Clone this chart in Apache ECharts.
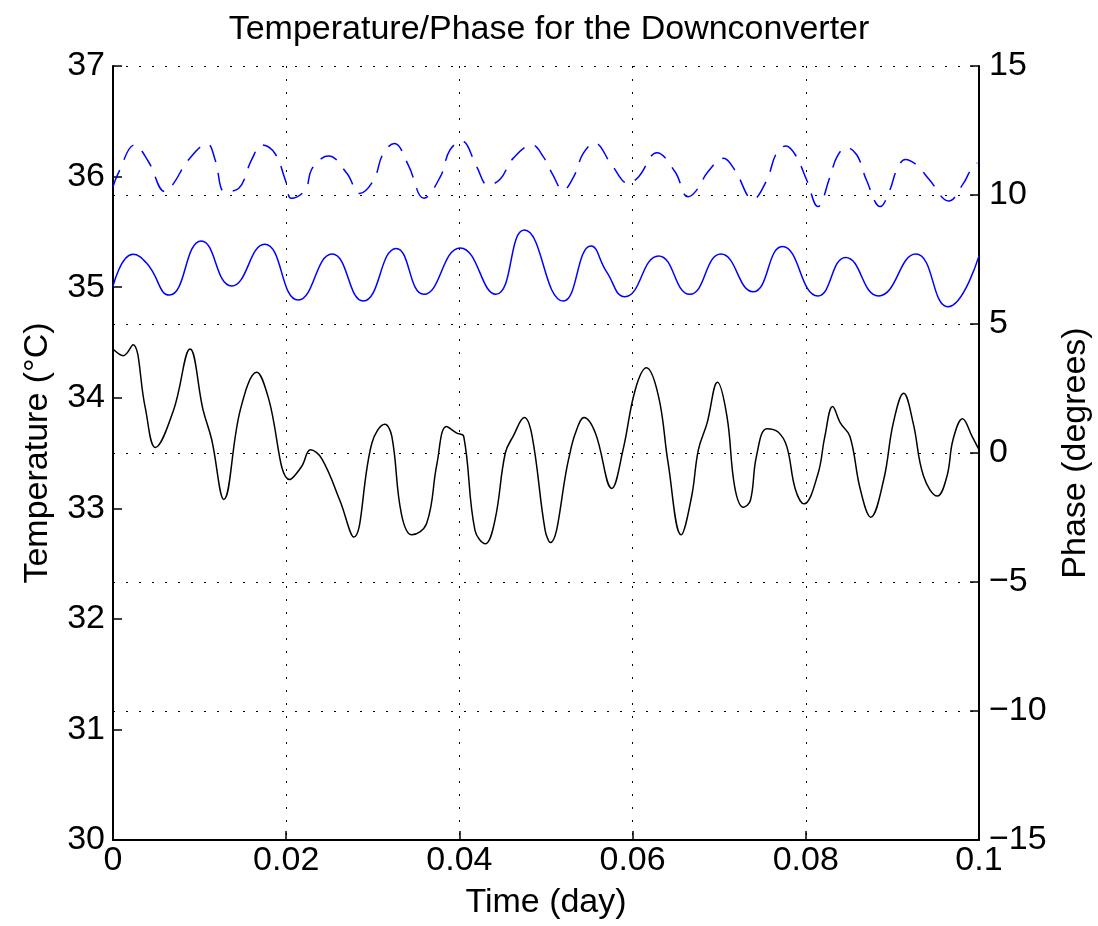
<!DOCTYPE html>
<html>
<head>
<meta charset="utf-8">
<script src="https://cdn.jsdelivr.net/npm/echarts@6/dist/echarts.min.js"></script>
<style>
html,body{margin:0;padding:0;background:#fff;overflow:hidden;width:1098px;height:926px;}
#chart{width:1098px;height:926px;position:absolute;left:0;top:0;}
</style>
</head>
<body>
<div id="chart"></div>
<script>
// ---- Data ----
var titleText = 'Temperature/Phase for the Downconverter';
var xTicks = [0, 0.02, 0.04, 0.06, 0.08, 0.1];
var tempTicks = [30, 31, 32, 33, 34, 35, 36, 37];
var phaseTicks = [-15, -10, -5, 0, 5, 10, 15];

// Temperature (left axis, black)
var tempTime = [0, 0.0012, 0.0023, 0.0037, 0.0049, 0.0070, 0.0089, 0.0104, 0.0114, 0.0128, 0.0147, 0.0166, 0.0179, 0.0204, 0.0218, 0.0228, 0.0241,
  0.0262, 0.0278, 0.0299, 0.0314, 0.0322, 0.0333, 0.0345, 0.0362, 0.0374, 0.0385, 0.0397, 0.0405, 0.0418, 0.0430, 0.0441, 0.0453, 0.0462,
  0.0475, 0.0484, 0.0499, 0.0505, 0.0526, 0.0534, 0.0544, 0.0557, 0.0576, 0.0589, 0.0603, 0.0616, 0.0630, 0.0641, 0.0656, 0.0668, 0.0676,
  0.0686, 0.0698, 0.0709, 0.0718, 0.0728, 0.0736, 0.0743, 0.0755, 0.0768, 0.0778, 0.0788, 0.0798, 0.0814, 0.0822, 0.0831, 0.0840, 0.0851,
  0.0863, 0.0875, 0.0890, 0.0901, 0.0913, 0.0924, 0.0936, 0.0952, 0.0963, 0.0970, 0.0981, 0.0992, 0.1000];
var tempValues = [34.44, 34.38, 34.48, 33.92, 33.55, 33.89, 34.44, 33.89, 33.62, 33.08, 33.89, 34.23, 34.01, 33.26, 33.38, 33.53, 33.45,
  33.07, 32.74, 33.59, 33.76, 33.65, 32.95, 32.76, 32.86, 33.40, 33.74, 33.68, 33.65, 32.80, 32.68, 32.89, 33.50, 33.65,
  33.82, 33.65, 32.80, 32.69, 33.44, 33.68, 33.82, 33.68, 33.18, 33.53, 34.07, 34.27, 34.01, 33.41, 32.76, 33.10, 33.53,
  33.77, 34.14, 33.83, 33.19, 33.01, 33.07, 33.47, 33.72, 33.69, 33.56, 33.17, 33.04, 33.31, 33.65, 33.92, 33.77, 33.65,
  33.17, 32.92, 33.26, 33.77, 34.04, 33.77, 33.29, 33.11, 33.29, 33.62, 33.81, 33.65, 33.53];

// Phase, solid blue (right axis)
var phaseATime = [0, 0.0023, 0.0039, 0.0065, 0.0102, 0.0137, 0.0175, 0.0214, 0.0253, 0.0289, 0.0327, 0.0359, 0.0401, 0.0442, 0.0475,
  0.0520, 0.0552, 0.0570, 0.0591, 0.0630, 0.0666, 0.0702, 0.0739, 0.0773, 0.0814, 0.0846, 0.0884, 0.0927, 0.0964, 0.1000];
var phaseAValues = [6.47, 7.70, 7.35, 6.12, 8.22, 6.47, 8.09, 5.93, 7.71, 5.89, 7.93, 6.15, 7.95, 6.15, 8.64,
  5.89, 8.02, 7.02, 6.06, 7.64, 6.15, 7.71, 6.25, 8.00, 6.09, 7.58, 6.09, 7.71, 5.67, 7.64];

// Phase, dashed blue (right axis)
var phaseBTime = [0, 0.0006, 0.0025, 0.0041, 0.0060, 0.0070, 0.0087, 0.0109, 0.0118, 0.0129, 0.0145, 0.0160, 0.0172, 0.0187, 0.0199, 0.0206,
  0.0222, 0.0229, 0.0241, 0.0249, 0.0270, 0.0285, 0.0301, 0.0312, 0.0325, 0.0341, 0.0359, 0.0378, 0.0389, 0.0403, 0.0420, 0.0433,
  0.0447, 0.0462, 0.0484, 0.0497, 0.0507, 0.0520, 0.0532, 0.0543, 0.0556, 0.0576, 0.0595, 0.0607, 0.0628, 0.0649, 0.0664, 0.0674,
  0.0687, 0.0705, 0.0718, 0.0739, 0.0755, 0.0766, 0.0777, 0.0788, 0.0801, 0.0814, 0.0828, 0.0836, 0.0847, 0.0859, 0.0870, 0.0886,
  0.0897, 0.0905, 0.0915, 0.0928, 0.0943, 0.0965, 0.0982, 0.0990, 0.0998];
var phaseBValues = [10.32, 10.84, 11.94, 11.29, 10.13, 10.45, 11.36, 11.98, 11.36, 10.13, 10.25, 11.36, 11.94, 11.61, 10.58, 9.87,
  10.19, 10.97, 11.42, 11.51, 10.84, 10.06, 10.58, 11.61, 12.00, 11.16, 9.87, 10.71, 11.74, 12.09, 11.09, 10.39,
  10.61, 11.42, 11.94, 11.48, 10.84, 10.19, 10.71, 11.61, 12.02, 11.16, 10.45, 10.71, 11.64, 10.90, 9.93, 10.19,
  10.90, 11.42, 10.97, 9.83, 10.58, 11.61, 11.90, 11.55, 10.58, 9.55, 10.71, 11.48, 11.84, 11.55, 10.58, 9.55,
  10.19, 10.97, 11.38, 11.16, 10.58, 9.77, 10.45, 10.94, 11.25];

function pairs(xs, ys) { return xs.map(function (x, i) { return [x, ys[i]]; }); }

var FONT = "'Liberation Sans', Arial, Helvetica, sans-serif";
var dotted = { color: '#000', width: 1, type: [2, 11] };

var chart = echarts.init(document.getElementById('chart'), null, { width: 1098, height: 926 });
chart.setOption({
  animation: false,
  backgroundColor: '#fff',
  textStyle: { fontFamily: FONT },
  title: {
    text: titleText,
    left: 'center',
    top: 8,
    textStyle: { fontFamily: FONT, fontSize: 34, fontWeight: 'normal', color: '#000' }
  },
  grid: { left: 113, right: 119, top: 66, bottom: 86, containLabel: false, outerBoundsMode: 'none' },
  xAxis: {
    type: 'value', min: xTicks[0], max: xTicks[xTicks.length - 1], interval: 0.02,
    name: 'Time (day)', nameLocation: 'middle', nameGap: 46,
    nameTextStyle: { fontFamily: FONT, fontSize: 34, color: '#000' },
    axisLine: { show: true, onZero: false, lineStyle: { color: '#000', width: 2 } },
    axisTick: { show: true, inside: true, length: 9, lineStyle: { color: '#000', width: 1.5 } },
    axisLabel: { fontFamily: FONT, fontSize: 34, color: '#000', margin: 4, showMinLabel: true, showMaxLabel: true },
    splitLine: { show: true, lineStyle: dotted }
  },
  yAxis: [{
    type: 'value', position: 'left', min: tempTicks[0], max: tempTicks[tempTicks.length - 1], interval: 1,
    name: 'Temperature (°C)', nameLocation: 'middle', nameRotate: 90, nameGap: 58,
    nameTextStyle: { fontFamily: FONT, fontSize: 34, color: '#000' },
    axisLine: { show: true, onZero: false, lineStyle: { color: '#000', width: 2 } },
    axisTick: { show: true, inside: true, length: 9, lineStyle: { color: '#000', width: 1.5 } },
    axisLabel: { fontFamily: FONT, fontSize: 34, color: '#000', margin: 8, showMinLabel: true, showMaxLabel: true },
    splitLine: { show: false }
  }, {
    type: 'value', position: 'right', min: phaseTicks[0], max: phaseTicks[phaseTicks.length - 1], interval: 5,
    name: 'Phase (degrees)', nameLocation: 'middle', nameRotate: 90, nameGap: 80,
    nameTextStyle: { fontFamily: FONT, fontSize: 34, color: '#000' },
    axisLine: { show: true, onZero: false, lineStyle: { color: '#000', width: 2 } },
    axisTick: { show: true, inside: true, length: 9, lineStyle: { color: '#000', width: 1.5 } },
    axisLabel: {
      fontFamily: FONT, fontSize: 34, color: '#000', margin: 10, showMinLabel: true, showMaxLabel: true,
      formatter: function (v) { return v < 0 ? '\u2212' + Math.abs(v) : String(v); }
    },
    splitLine: { show: true, lineStyle: dotted }
  }],
  series: [{
    name: 'Temperature', type: 'line', yAxisIndex: 0, data: pairs(tempTime, tempValues),
    showSymbol: false, smooth: 0.4, lineStyle: { color: '#000', width: 1.5 }, itemStyle: { color: '#000' }
  }, {
    name: 'Phase A', type: 'line', yAxisIndex: 1, data: pairs(phaseATime, phaseAValues),
    showSymbol: false, smooth: 0.5, lineStyle: { color: '#0000ff', width: 1.5 }, itemStyle: { color: '#0000ff' }
  }, {
    name: 'Phase B', type: 'line', yAxisIndex: 1, data: pairs(phaseBTime, phaseBValues),
    showSymbol: false, smooth: 0.4, lineStyle: { color: '#0000ff', width: 1.5, type: [18, 11] }, itemStyle: { color: '#0000ff' }
  }]
});
</script>
</body>
</html>
